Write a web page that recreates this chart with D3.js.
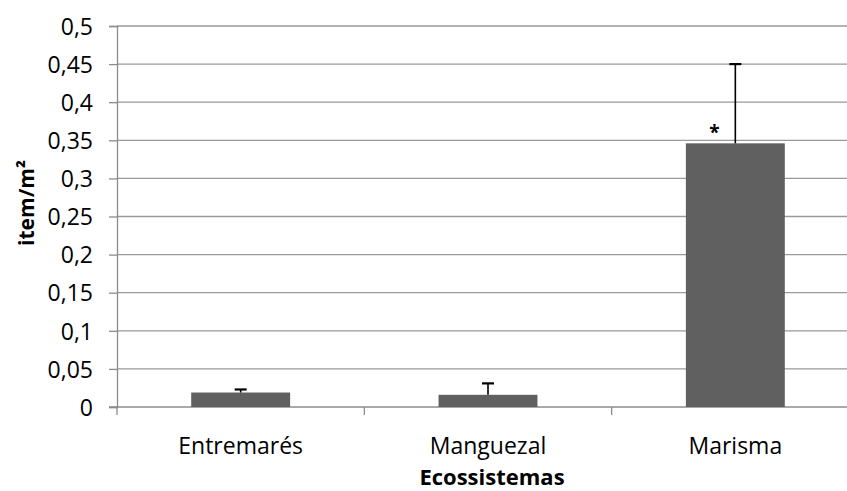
<!DOCTYPE html>
<html>
<head>
<meta charset="utf-8">
<script src="https://cdnjs.cloudflare.com/ajax/libs/d3/7.8.5/d3.min.js"></script>
<style>
  html, body { margin: 0; padding: 0; background: #fff; overflow: hidden; }
  svg { display: block; }
  text { font-family: "Open Sans", Lato, sans-serif; fill: #000; }
</style>
</head>
<body>
<script>
// Densidade média (item/m²) por ecossistema, com erro padrão
const categories = ["Entremarés", "Manguezal", "Marisma"];
const means = [0.019, 0.016, 0.346];
const errors = [0.004, 0.015, 0.104];
const yTicks = [0, 0.05, 0.1, 0.15, 0.2, 0.25, 0.3, 0.35, 0.4, 0.45, 0.5];
const significant = [false, false, true];

const width = 847, height = 491;
const margin = { left: 117, top: 26, right: -12, bottom: 84 };

const svg = d3.select("body").append("svg")
  .attr("width", width).attr("height", height);

const x = d3.scaleBand()
  .domain(categories)
  .range([margin.left, width - margin.right])
  .paddingInner(0.6).paddingOuter(0.3);

const y = d3.scaleLinear()
  .domain([0, 0.5])
  .range([height - margin.bottom, margin.top]);

const fmt = d => String(d).replace(".", ",");

// Linhas de grade horizontais
svg.append("g")
  .selectAll("line")
  .data(yTicks.filter(d => d > 0))
  .join("line")
  .attr("x1", margin.left).attr("x2", width)
  .attr("y1", d => y(d)).attr("y2", d => y(d))
  .attr("stroke", "#9a9a9a").attr("stroke-width", 1.3);

// Eixo Y
const yAxis = svg.append("g")
  .attr("transform", `translate(${margin.left},0)`)
  .call(d3.axisLeft(y).tickValues(yTicks).tickFormat(fmt).tickSizeOuter(0).tickSize(8).tickPadding(16));
yAxis.select(".domain").attr("stroke", "#8c8c8c").attr("stroke-width", 1.3);
yAxis.selectAll(".tick line").attr("stroke", "#8c8c8c").attr("stroke-width", 1.3);
yAxis.selectAll(".tick text")
  .style("font-family", "'Open Sans', Lato, sans-serif")
  .style("font-size", "23px").attr("fill", "#000").attr("dy", "0.36em");

// Eixo X (marcas entre categorias)
const step = x.step();
const bounds = d3.range(categories.length + 1).map(i => margin.left + i * step);
svg.append("line")
  .attr("x1", margin.left - 8).attr("x2", width)
  .attr("y1", y(0)).attr("y2", y(0))
  .attr("stroke", "#8c8c8c").attr("stroke-width", 1.3);
svg.append("g").selectAll("line")
  .data(bounds)
  .join("line")
  .attr("x1", d => d).attr("x2", d => d)
  .attr("y1", y(0)).attr("y2", y(0) + 8)
  .attr("stroke", "#8c8c8c").attr("stroke-width", 1.3);

// Rótulos das categorias
svg.append("g").selectAll("text")
  .data(categories)
  .join("text")
  .attr("x", d => x(d) + x.bandwidth() / 2)
  .attr("y", 454)
  .attr("text-anchor", "middle")
  .style("font-size", "23px")
  .text(d => d);

// Barras
const data = categories.map((c, i) => ({ c, m: means[i], e: errors[i], s: significant[i] }));
svg.append("g").selectAll("rect")
  .data(data)
  .join("rect")
  .attr("x", d => x(d.c))
  .attr("width", x.bandwidth())
  .attr("y", d => y(d.m))
  .attr("height", d => y(0) - y(d.m))
  .attr("fill", "#606060");

// Barras de erro (apenas para cima)
const eb = svg.append("g").attr("stroke", "#000").attr("stroke-width", 1.6);
eb.selectAll("line.v")
  .data(data)
  .join("line").attr("class", "v")
  .attr("x1", d => x(d.c) + x.bandwidth() / 2)
  .attr("x2", d => x(d.c) + x.bandwidth() / 2)
  .attr("y1", d => y(d.m)).attr("y2", d => y(d.m + d.e));
eb.selectAll("line.cap")
  .data(data)
  .join("line").attr("class", "cap")
  .attr("x1", d => x(d.c) + x.bandwidth() / 2 - 6)
  .attr("x2", d => x(d.c) + x.bandwidth() / 2 + 6)
  .attr("y1", d => y(d.m + d.e)).attr("y2", d => y(d.m + d.e))
  .attr("stroke-width", 2.2);

// Marcador de diferença significativa
svg.append("g").selectAll("text")
  .data(data.filter(d => d.s))
  .join("text")
  .attr("x", d => x(d.c) + x.bandwidth() / 2 - 21)
  .attr("y", d => y(d.m) - 4)
  .attr("text-anchor", "middle")
  .style("font-size", "19px")
  .style("font-weight", "bold")
  .text("*");

// Títulos dos eixos
svg.append("text")
  .attr("x", 492)
  .attr("y", 485)
  .attr("text-anchor", "middle")
  .style("font-size", "22px").style("font-weight", "bold")
  .text("Ecossistemas");

svg.append("text")
  .attr("transform", `translate(34,203) rotate(-90)`)
  .attr("text-anchor", "middle")
  .style("font-size", "21px").style("font-weight", "bold")
  .text("item/m²");
</script>
</body>
</html>
